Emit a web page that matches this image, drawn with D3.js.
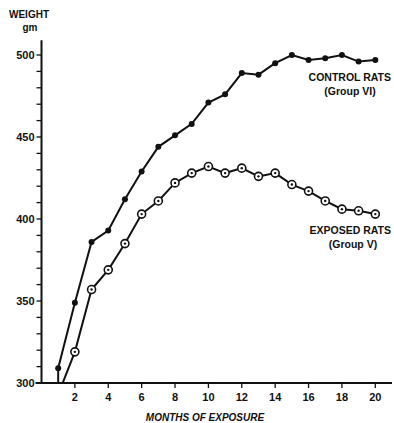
<!DOCTYPE html>
<html>
<head>
  <style>
    body { margin: 0; background: #fff; }
    text { font-family: 'Liberation Sans', Arial, sans-serif; font-weight: bold; fill: #111; }
  </style>
</head>
<body>
  <div id="chart"></div>
  <script src="https://d3js.org/d3.v7.min.js"></script>
  <script>
    // Months (first entry is where each curve enters from below 300 gm)
    const controlMonths = [1, 1, 2, 3, 4, 5, 6, 7, 8, 9, 10, 11, 12, 13, 14, 15, 16, 17, 18, 19, 20];
    const controlWeights = [290, 309, 349, 386, 393, 412, 429, 444, 451, 458, 471, 476, 489, 488, 495, 500, 497, 498, 500, 496, 497];
    const exposedMonths = [1, 2, 3, 4, 5, 6, 7, 8, 9, 10, 11, 12, 13, 14, 15, 16, 17, 18, 19, 20];
    const exposedWeights = [293, 319, 357, 369, 385, 403, 411, 422, 428, 432, 428, 431, 426, 428, 421, 417, 411, 406, 405, 403];
    const xTickLabels = [2, 4, 6, 8, 10, 12, 14, 16, 18, 20];
    const yTickLabels = [300, 350, 400, 450, 500];

    const width = 394, height = 423;
    const svg = d3.select("#chart").append("svg")
      .attr("width", width)
      .attr("height", height);

    const x = d3.scaleLinear().domain([0, 21]).range([41.5, 392]);
    const y = d3.scaleLinear().domain([300, 500]).range([383, 55]);

    // clip so curves start at the axis
    svg.append("clipPath").attr("id", "plot")
      .append("rect")
      .attr("x", x(0)).attr("y", 0)
      .attr("width", x(21) - x(0)).attr("height", y(300));

    // y axis
    const yAxis = svg.append("g").attr("transform", `translate(${x(0)},0)`);
    yAxis.append("line")
      .attr("x1", 0).attr("x2", 0)
      .attr("y1", y(509)).attr("y2", y(300))
      .attr("stroke", "#111").attr("stroke-width", 2);
    yAxis.selectAll(".minor")
      .data(d3.range(300, 501, 10))
      .join("line")
      .attr("x1", -5).attr("x2", 0)
      .attr("y1", d => y(d)).attr("y2", d => y(d))
      .attr("stroke", "#111").attr("stroke-width", 1.3);
    yAxis.selectAll(".lab")
      .data(yTickLabels)
      .join("text")
      .attr("x", -7).attr("y", d => y(d) + 4)
      .attr("text-anchor", "end")
      .attr("font-size", 11)
      .text(d => d);

    // x axis
    const xAxis = svg.append("g").attr("transform", `translate(0,${y(300)})`);
    xAxis.append("line")
      .attr("x1", x(0) - 6).attr("x2", x(21))
      .attr("stroke", "#111").attr("stroke-width", 2);
    xAxis.selectAll(".tick")
      .data(xTickLabels)
      .join("line")
      .attr("x1", d => x(d)).attr("x2", d => x(d))
      .attr("y1", 0).attr("y2", 5)
      .attr("stroke", "#111").attr("stroke-width", 1.3);
    xAxis.selectAll(".lab")
      .data(xTickLabels)
      .join("text")
      .attr("x", d => x(d)).attr("y", 18)
      .attr("text-anchor", "middle")
      .attr("font-size", 11)
      .text(d => d);

    // axis titles
    svg.append("text").attr("x", 29).attr("y", 18)
      .attr("text-anchor", "middle").attr("font-size", 10).text("WEIGHT");
    svg.append("text").attr("x", 30).attr("y", 31)
      .attr("text-anchor", "middle").attr("font-size", 10).text("gm");
    svg.append("text").attr("x", 205).attr("y", 421)
      .attr("text-anchor", "middle").attr("font-size", 10)
      .attr("font-style", "italic").text("MONTHS OF EXPOSURE");

    const line = d3.line().x(d => x(d[0])).y(d => y(d[1]));
    const control = d3.zip(controlMonths, controlWeights);
    const exposed = d3.zip(exposedMonths, exposedWeights);

    const plot = svg.append("g").attr("clip-path", "url(#plot)");

    plot.append("path").datum(control)
      .attr("d", line).attr("fill", "none")
      .attr("stroke", "#111").attr("stroke-width", 2);
    plot.append("path").datum(exposed)
      .attr("d", line).attr("fill", "none")
      .attr("stroke", "#111").attr("stroke-width", 2);

    plot.selectAll(".cdot")
      .data(control.slice(1))
      .join("circle")
      .attr("cx", d => x(d[0])).attr("cy", d => y(d[1]))
      .attr("r", 3).attr("fill", "#111");

    plot.selectAll(".edot")
      .data(exposed)
      .join("circle")
      .attr("cx", d => x(d[0])).attr("cy", d => y(d[1]))
      .attr("r", 4).attr("fill", "#fff")
      .attr("stroke", "#111").attr("stroke-width", 1.6);
    plot.selectAll(".ecenter")
      .data(exposed)
      .join("circle")
      .attr("cx", d => x(d[0])).attr("cy", d => y(d[1]))
      .attr("r", 1.2).attr("fill", "#111");

    // series labels
    svg.append("text").attr("x", 391).attr("y", 81)
      .attr("text-anchor", "end").attr("font-size", 10.5).text("CONTROL RATS");
    svg.append("text").attr("x", 350).attr("y", 95)
      .attr("text-anchor", "middle").attr("font-size", 10.5).text("(Group VI)");
    svg.append("text").attr("x", 391).attr("y", 234)
      .attr("text-anchor", "end").attr("font-size", 10.5).text("EXPOSED RATS");
    svg.append("text").attr("x", 353).attr("y", 248)
      .attr("text-anchor", "middle").attr("font-size", 10.5).text("(Group V)");
  </script>
</body>
</html>
